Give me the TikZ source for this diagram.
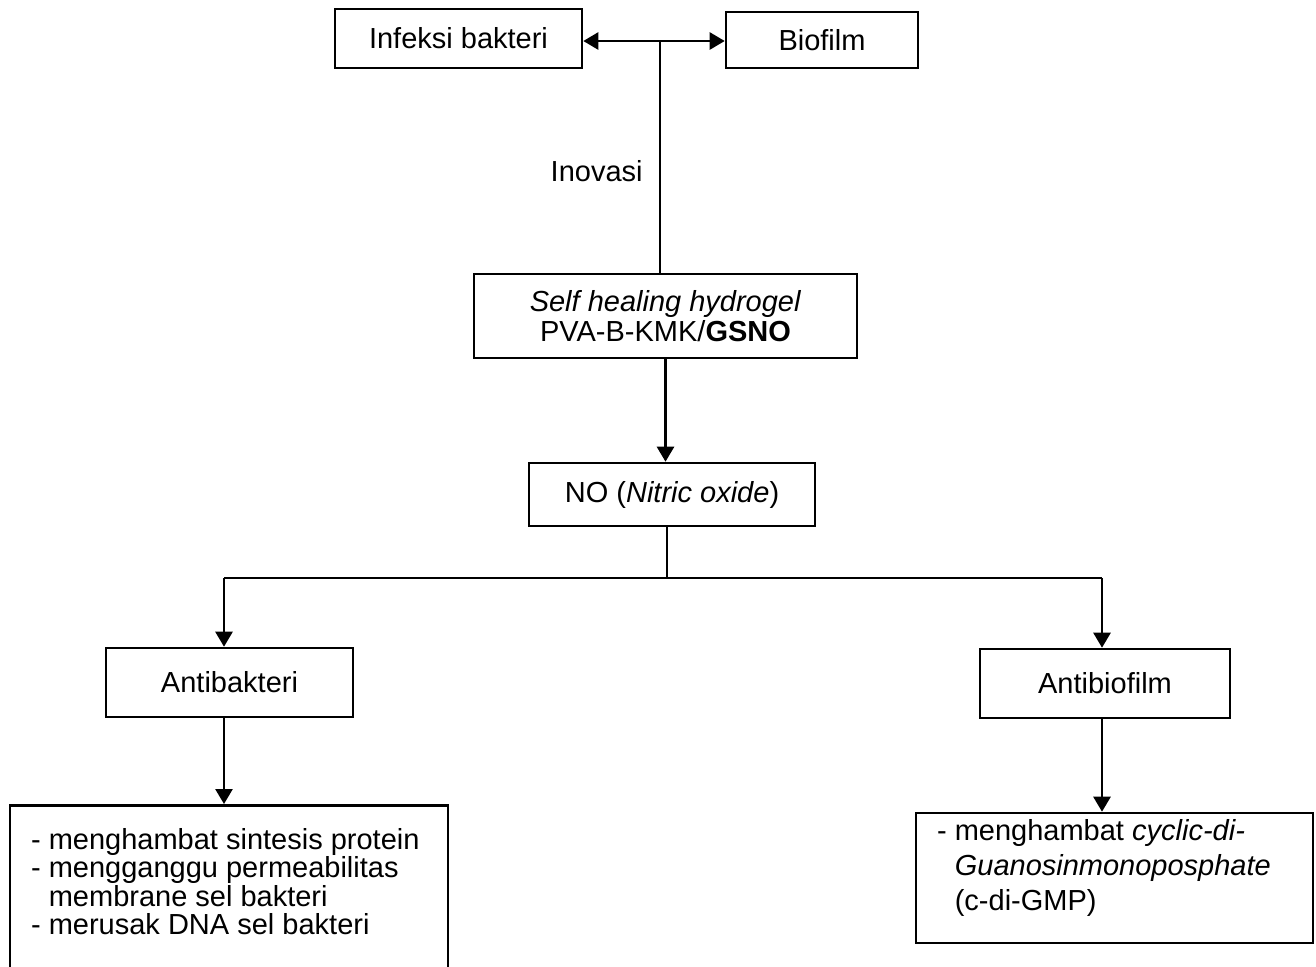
\documentclass[tikz,border=0pt]{standalone}
\usepackage{fontspec}
\setmainfont{Liberation Sans}
\usepackage{tikz}
\usetikzlibrary{positioning}
\usetikzlibrary{arrows.meta}
\tikzset{
    boxn/.style = {rectangle, draw=black, line width=1.3pt, align=center, inner sep=0pt},
    txtn/.style = {anchor=north west, align=left, inner sep=0pt},
    edgen/.style = {-{Triangle[length=7.5pt,width=8.5pt]}, line width=1.3pt},
    edged/.style = {{Triangle[length=7.5pt,width=8.5pt]}-{Triangle[length=7.5pt,width=8.5pt]}, line width=1.3pt}, % both ways
    edget/.style = {line width=0.6pt}, % thin
}

\begin{document}
\begin{tikzpicture}[x=0.5pt, y=-0.5pt, font=\fontsize{14.5}{15}\selectfont]
  \useasboundingbox (0,0) rectangle (1316,966);

  \node[boxn, minimum width=123.5pt, minimum height=29.5pt] (infeksi) at (458.5,38.5) {Infeksi bakteri};
  \node[boxn, minimum width=96pt, minimum height=28pt] (biofilm) at (822,40) {Biofilm};
  \coordinate (inovtop) at (660,41);

  \node[boxn, minimum width=191.5pt, minimum height=42pt] (shh) at (665.5,316)
    {\textit{Self healing hydrogel}\\PVA-B-KMK/\textbf{GSNO}};
  \node[anchor=east, inner sep=0pt] (inovasi) at (643,171) {Inovasi};

  \node[boxn, minimum width=143pt, minimum height=31.5pt] (no) at (672,494.5)
    {NO (\textit{Nitric oxide})};
  \coordinate (split) at (667,578);
  \coordinate (brl) at (224,578);
  \coordinate (brr) at (1102,578);

  \node[boxn, minimum width=123.5pt, minimum height=34.5pt] (antibak) at (229.5,682.5) {Antibakteri};
  \node[boxn, minimum width=125pt, minimum height=34.5pt] (antibio) at (1105,683.5) {Antibiofilm};

  \node[boxn, minimum width=219pt, minimum height=100pt, anchor=north] (efekab) at (229,804) {};
  \node[txtn, font=\fontsize{14.5}{14.25}\selectfont] (efekabtxt) at ([shift={(22,24)}]efekab.north west)
    {- menghambat sintesis protein\\- mengganggu permeabilitas\\\phantom{- }membrane sel bakteri\\- merusak DNA sel bakteri};

  \node[boxn, minimum width=198.5pt, minimum height=65pt] (efekbf) at (1114.5,878) {};
  \node[txtn, font=\fontsize{14.5}{17.5}\selectfont] (efekbftxt) at ([shift={(22,7)}]efekbf.north west)
    {- menghambat \textit{cyclic-di-}\\\phantom{- }\textit{Guanosinmonoposphate}\\\phantom{- }(c-di-GMP)};

  \draw[edged] (infeksi.east |- inovtop) -- (biofilm.west |- inovtop);
  \draw[edget] (inovtop) -- (inovtop |- shh.north);
  \draw[edgen] (shh.south) -- (shh.south |- no.north);
  \draw[edget] (split |- no.south) -- (split);
  \draw[edget] (brl) -- (brr);
  \draw[edgen] (brl) -- (brl |- antibak.north);
  \draw[edgen] (brr) -- (brr |- antibio.north);
  \draw[edgen] (brl |- antibak.south) -- (brl |- efekab.north);
  \draw[edgen] (brr |- antibio.south) -- (brr |- efekbf.north);

\end{tikzpicture}
\end{document}
